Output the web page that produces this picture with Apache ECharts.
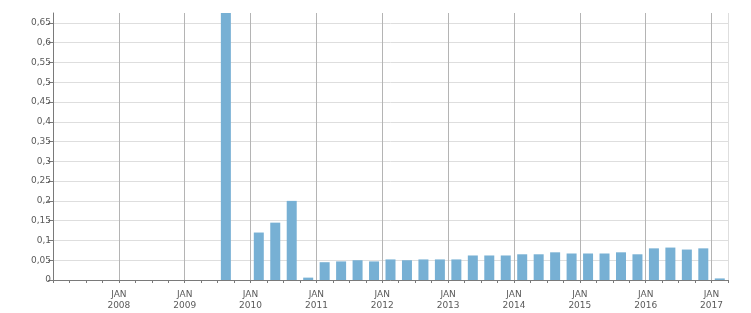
<!DOCTYPE html>
<html>
<head>
<meta charset="utf-8">
<script src="https://cdn.jsdelivr.net/npm/echarts@6/dist/echarts.min.js"></script>
<style>html,body{margin:0;padding:0;background:#fff}#c{width:751px;height:313px}</style>
</head>
<body>
<div id="c"></div>
<script>
// Quarterly categories, 2007 Q1 .. 2017 Q1
const categories = [
  '2007 Q1','2007 Q2','2007 Q3','2007 Q4',
  '2008 Q1','2008 Q2','2008 Q3','2008 Q4',
  '2009 Q1','2009 Q2','2009 Q3','2009 Q4',
  '2010 Q1','2010 Q2','2010 Q3','2010 Q4',
  '2011 Q1','2011 Q2','2011 Q3','2011 Q4',
  '2012 Q1','2012 Q2','2012 Q3','2012 Q4',
  '2013 Q1','2013 Q2','2013 Q3','2013 Q4',
  '2014 Q1','2014 Q2','2014 Q3','2014 Q4',
  '2015 Q1','2015 Q2','2015 Q3','2015 Q4',
  '2016 Q1','2016 Q2','2016 Q3','2016 Q4',
  '2017 Q1'
];
const values = [
  0, 0, 0, 0,
  0, 0, 0, 0,
  0, 0, 0.68, 0,
  0.12, 0.145, 0.2, 0.006,
  0.045, 0.047, 0.05, 0.047,
  0.052, 0.05, 0.052, 0.052,
  0.052, 0.062, 0.062, 0.062,
  0.065, 0.065, 0.07, 0.067,
  0.067, 0.067, 0.07, 0.065,
  0.08, 0.082, 0.077, 0.08,
  0.004
];
const yearLabels = ['2008','2009','2010','2011','2012','2013','2014','2015','2016','2017'];
const monthLabel = 'JAN';
const yTickValues = [0, 0.05, 0.1, 0.15, 0.2, 0.25, 0.3, 0.35, 0.4, 0.45, 0.5, 0.55, 0.6, 0.65];

const font = 'DejaVu Sans';
const textColor = '#5a5a5a';
const nQ = categories.length; // 41 quarters on the axis

const chart = echarts.init(document.getElementById('c'), null, {renderer: 'canvas'});
const splitColors = [];
for (let i = 0; i <= 10; i++) splitColors.push('#b4b4b4');
splitColors.push('#dedede');

chart.setOption({
  animation: false,
  grid: {left: 53, right: 23, top: 13, bottom: 33, containLabel: false},
  xAxis: [
    {
      type: 'value', min: 0, max: nQ, interval: 1, position: 'bottom',
      axisLine: {show: true, lineStyle: {color: '#7a7a7a', width: 1}},
      axisTick: {show: true, length: 3, lineStyle: {color: '#7a7a7a'}},
      axisLabel: {show: false},
      splitLine: {show: false}
    },
    {
      type: 'value', min: 0, max: nQ, interval: 4, position: 'bottom',
      axisLine: {show: false}, axisTick: {show: false},
      axisLabel: {
        show: true, margin: 9, fontFamily: font, fontSize: 9, color: textColor, lineHeight: 11,
        formatter: function (v) {
          if (v % 4 !== 0 || v <= 0) return '';
          const y = yearLabels[v / 4 - 1];
          return y ? monthLabel + '\n' + y : '';
        }
      },
      splitLine: {show: true, lineStyle: {color: splitColors, width: 1}}
    }
  ],
  yAxis: {
    type: 'value', min: 0, max: 0.675, interval: 0.05,
    axisLine: {show: true, lineStyle: {color: '#7a7a7a', width: 1}},
    axisTick: {show: true, length: 5, customValues: yTickValues, lineStyle: {color: '#7a7a7a'}},
    axisLabel: {
      margin: 2, fontFamily: font, fontSize: 9, color: textColor,
      formatter: function (v) {
        const k = v / 0.05;
        if (Math.abs(k - Math.round(k)) > 1e-6) return '';
        return String(Math.round(v * 100) / 100).replace('.', ',');
      }
    },
    splitLine: {show: true, lineStyle: {color: '#dedede', width: 1}}
  },
  series: [{
    type: 'bar', xAxisIndex: 0, barWidth: 10, clip: true,
    itemStyle: {color: '#77b0d4'},
    data: values.map((v, i) => [i + 0.5, v])
  }]
});
</script>
</body>
</html>
